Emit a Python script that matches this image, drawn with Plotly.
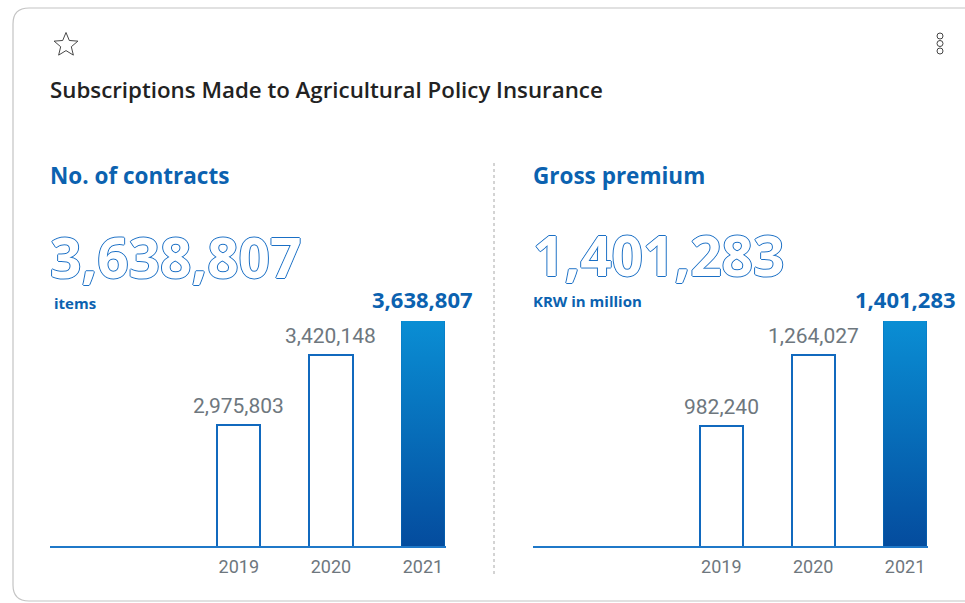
import math
import plotly.graph_objects as go

# --- data ---------------------------------------------------------------
years = ["2019", "2020", "2021"]
contracts = [2975803, 3420148, 3638807]          # items
premium = [982240, 1264027, 1401283]             # KRW in million
panel_titles = ["No. of contracts", "Gross premium"]
panel_units = ["items", "KRW in million"]
chart_title = "Subscriptions Made to Agricultural Policy Insurance"

# --- page geometry helpers (pixel -> paper fraction) ---------------------
W, H = 965, 603


def fx(px):
    return px / W


def fy(py):
    return 1 - py / H


BLUE = "#0b62b0"
OUTLINE = "#1a6fc5"
BAR_LINE = "#1169be"
GRAY = "#6e777e"
DARK = "#222222"
BAR_W = 0.47
X_RANGE = [-2.05, 2.25]

panels = [
    dict(values=contracts, floor=2200000, x0=50, x1=446, ax="", title=panel_titles[0],
         unit=panel_units[0], unit_dx=2, unit_y=303, big_y=256),
    dict(values=premium, floor=500000, x0=533, x1=928, ax="2", title=panel_titles[1],
         unit=panel_units[1], unit_dx=-2, unit_y=301, big_y=254),
]

fig = go.Figure()
annotations = []
layout_axes = {}
pos = list(range(len(years)))

for p in panels:
    vals = p["values"]
    xa = "x" + p["ax"]
    ya = "y" + p["ax"]
    last = len(vals) - 1

    # outlined bars for earlier years, the latest year gets a gradient overlay
    fig.add_trace(go.Bar(
        x=pos, y=vals, width=BAR_W, xaxis=xa, yaxis=ya,
        marker=dict(
            color=["white"] * last + ["#0670bd"],
            line=dict(color=BAR_LINE, width=[2] * last + [0]),
        ),
        hoverinfo="skip", showlegend=False,
    ))
    lx, rx = pos[last] - BAR_W / 2, pos[last] + BAR_W / 2
    fig.add_trace(go.Scatter(
        x=[lx, rx, rx, lx, lx],
        y=[p["floor"], p["floor"], vals[last], vals[last], p["floor"]],
        xaxis=xa, yaxis=ya, mode="lines", line=dict(width=0),
        fill="toself",
        fillgradient=dict(type="vertical",
                          colorscale=[[0, "#044c9e"], [1, "#0a8ed4"]]),
        hoverinfo="skip", showlegend=False,
    ))

    axis_key = p["ax"]
    layout_axes["xaxis" + axis_key] = dict(
        domain=[fx(p["x0"]), fx(p["x1"])], range=X_RANGE,
        tickmode="array", tickvals=pos, ticktext=years,
        tickfont=dict(family="Roboto", size=18, color=GRAY),
        ticklabelstandoff=3,
        showgrid=False, zeroline=False, showline=True,
        linecolor="#1f78c8", linewidth=2, ticks="",
        anchor=ya, fixedrange=True,
    )
    layout_axes["yaxis" + axis_key] = dict(
        domain=[fy(546), fy(321)], range=[p["floor"], max(vals)],
        visible=False, anchor=xa, fixedrange=True,
    )

    # value labels above bars
    for i, v in enumerate(vals):
        is_last = i == last
        annotations.append(dict(
            xref=xa, yref=ya, x=pos[i], y=v, yanchor="bottom", xanchor="center",
            yshift=5, showarrow=False, text=f"{v:,}",
            font=dict(family="Open Sans" if is_last else "Roboto",
                      size=22 if is_last else 21,
                      color=BLUE if is_last else GRAY,
                      weight=700 if is_last else 400),
        ))

    # panel heading, big outlined figure and unit
    annotations.append(dict(
        xref="paper", yref="paper", x=fx(p["x0"] - 2), y=fy(175),
        xanchor="left", yanchor="middle", showarrow=False, text=p["title"],
        font=dict(family="Open Sans", size=22.5, color=BLUE, weight=700),
    ))
    outline = ", ".join(
        f"{dx}px {dy}px 0 {OUTLINE}"
        for dx, dy in [(1, 0), (-1, 0), (0, 1), (0, -1)]
    )
    annotations.append(dict(
        xref="paper", yref="paper", x=fx(p["x0"] - 2), y=fy(p["big_y"]),
        xanchor="left", yanchor="middle", showarrow=False, text=f"{vals[last]:,}",
        font=dict(family="Open Sans", size=55, color="white", weight=700, shadow=outline),
    ))
    annotations.append(dict(
        xref="paper", yref="paper", x=fx(p["x0"] + p["unit_dx"]), y=fy(p["unit_y"]),
        xanchor="left", yanchor="middle", showarrow=False, text=p["unit"],
        font=dict(family="Open Sans", size=15, color=BLUE, weight=700),
    ))

# chart title
annotations.append(dict(
    xref="paper", yref="paper", x=fx(48), y=fy(89),
    xanchor="left", yanchor="middle", showarrow=False, text=chart_title,
    font=dict(family="Open Sans", size=22.3, color=DARK, weight=600),
))

shapes = []
# card outline with rounded corners
r = 16
L, T, B = 13, 8, 601
Rr = W + 20
card = (f"M {fx(Rr)},{fy(T)} L {fx(L + r)},{fy(T)} "
        f"Q {fx(L)},{fy(T)} {fx(L)},{fy(T + r)} "
        f"L {fx(L)},{fy(B - r)} Q {fx(L)},{fy(B)} {fx(L + r)},{fy(B)} "
        f"L {fx(Rr)},{fy(B)}")
shapes.append(dict(type="path", xref="paper", yref="paper", path=card,
                   line=dict(color="#c4c4c4", width=1.2)))

# favourite star icon
cx, cy, ro, ri = 66, 45, 12.5, 5.6
pts = []
for k in range(10):
    rad = ro if k % 2 == 0 else ri
    ang = -math.pi / 2 + k * math.pi / 5
    pts.append((cx + rad * math.cos(ang), cy + rad * math.sin(ang)))
star = "M " + " L ".join(f"{fx(a)},{fy(b)}" for a, b in pts) + " Z"
shapes.append(dict(type="path", xref="paper", yref="paper", path=star,
                   line=dict(color="#333333", width=0.9)))

# overflow menu dots
for dy in (36, 43.5, 51):
    shapes.append(dict(type="circle", xref="paper", yref="paper",
                       x0=fx(937), x1=fx(943), y0=fy(dy - 3), y1=fy(dy + 3),
                       line=dict(color="#444444", width=1)))

# dotted divider between the two panels
shapes.append(dict(type="line", xref="paper", yref="paper",
                   x0=fx(494), x1=fx(494), y0=fy(163), y1=fy(576),
                   line=dict(color="#a8a8a8", width=1, dash="dot")))

fig.update_layout(
    width=W, height=H,
    margin=dict(l=0, r=0, t=0, b=0),
    paper_bgcolor="white", plot_bgcolor="rgba(0,0,0,0)",
    showlegend=False, bargap=0,
    annotations=annotations, shapes=shapes,
    **layout_axes,
)

fig.write_html("out.html", config={"displayModeBar": False})
